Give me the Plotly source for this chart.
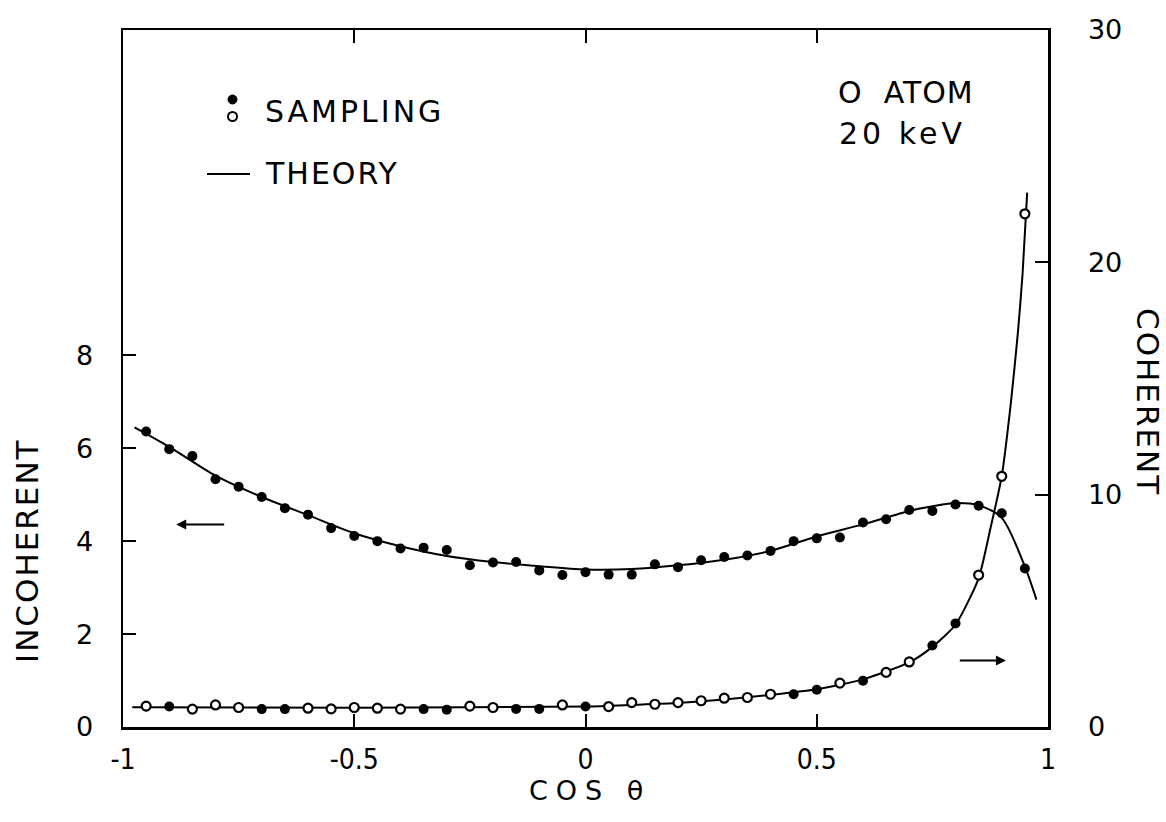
import plotly.graph_objects as go

# ---------------- data ----------------
cos_theta = [-0.95, -0.90, -0.85, -0.80, -0.75, -0.70, -0.65, -0.60, -0.55, -0.50,
             -0.45, -0.40, -0.35, -0.30, -0.25, -0.20, -0.15, -0.10, -0.05, 0.00,
             0.05, 0.10, 0.15, 0.20, 0.25, 0.30, 0.35, 0.40, 0.45, 0.50,
             0.55, 0.60, 0.65, 0.70, 0.75, 0.80, 0.85, 0.90, 0.95]

incoherent_sampling = [6.36, 5.98, 5.83, 5.33, 5.17, 4.95, 4.71, 4.57, 4.28, 4.11,
                       4.00, 3.84, 3.86, 3.81, 3.48, 3.54, 3.55, 3.37, 3.27, 3.33,
                       3.28, 3.28, 3.50, 3.44, 3.59, 3.66, 3.69, 3.79, 4.00, 4.06,
                       4.08, 4.40, 4.47, 4.67, 4.65, 4.79, 4.76, 4.60, 3.41]

coherent_sampling = [0.90, 0.88, 0.77, 0.95, 0.84, 0.77, 0.77, 0.81, 0.78, 0.84,
                     0.81, 0.77, 0.77, 0.74, 0.90, 0.84, 0.78, 0.78, 0.95, 0.88,
                     0.88, 1.05, 0.98, 1.05, 1.13, 1.24, 1.27, 1.41, 1.41, 1.60,
                     1.89, 1.99, 2.35, 2.80, 3.51, 4.46, 6.54, 10.79, 22.09]

# True = filled dot, False = open circle (as printed in the figure)
coherent_filled = [False, True, False, False, False, True, True, False, False, False,
                   False, False, True, True, False, False, True, True, False, True,
                   False, False, False, False, False, False, False, False, True, True,
                   False, True, False, False, True, True, False, False, False]

theory_incoh_x = [-0.975, -0.9, -0.8, -0.7, -0.6, -0.5, -0.4, -0.3, -0.2, -0.1, 0.0,
                  0.1, 0.2, 0.3, 0.4, 0.5, 0.6, 0.7, 0.75, 0.8, 0.85, 0.9, 0.95, 0.975]
theory_incoh_y = [6.45, 6.03, 5.41, 4.95, 4.56, 4.17, 3.89, 3.68, 3.55, 3.46, 3.39,
                  3.40, 3.48, 3.60, 3.79, 4.10, 4.36, 4.65, 4.75, 4.82, 4.77, 4.50, 3.45, 2.74]

theory_coh_x = [-0.98, -0.5, 0.0, 0.1, 0.2, 0.3, 0.4, 0.5, 0.6, 0.7, 0.75, 0.8,
                0.85, 0.875, 0.9, 0.92, 0.935, 0.945, 0.955]
theory_coh_y = [0.85, 0.83, 0.88, 0.95, 1.03, 1.18, 1.38, 1.62, 2.05, 2.78, 3.45, 4.40,
                6.40, 8.50, 10.80, 14.00, 17.00, 19.50, 23.00]

x_ticks = [-1, -0.5, 0, 0.5, 1]
x_tick_text = ["-1", "-0.5", "0", "0.5", "1"]
left_ticks = [0, 2, 4, 6, 8]
right_ticks = [0, 10, 20, 30]

# ---------------- figure ----------------
W, H = 1166, 822
FX0, FX1, FY0, FY1 = 123, 1048, 30, 727      # frame in page pixels
L, T = FX0, FY0
pw, ph = FX1 - FX0, FY1 - FY0
R = W - L - pw
B = H - T - ph

def px(xp):
    return (xp - FX0) / pw

def py(yp):
    return (FY1 - yp) / ph

FONT = "DejaVu Sans, Verdana, sans-serif"
NARROW = "Liberation Sans Narrow, DejaVu Sans Condensed, Arial Narrow, Liberation Sans, sans-serif"
BLACK = "#000000"

def spaced(txt, sp):
    return '<span style="letter-spacing:%dpx">%s</span>' % (sp, txt)

fig = go.Figure()

fig.add_trace(go.Scatter(x=theory_incoh_x, y=theory_incoh_y, mode="lines",
                         line=dict(color=BLACK, width=2, shape="spline", smoothing=0.8),
                         showlegend=False, hoverinfo="skip"))
fig.add_trace(go.Scatter(x=cos_theta, y=incoherent_sampling, mode="markers",
                         marker=dict(symbol="circle", size=10, color=BLACK),
                         showlegend=False))

fig.add_trace(go.Scatter(x=theory_coh_x, y=theory_coh_y, mode="lines", yaxis="y2",
                         line=dict(color=BLACK, width=2, shape="spline", smoothing=0.6),
                         showlegend=False, hoverinfo="skip"))
fx = [x for x, f in zip(cos_theta, coherent_filled) if f]
fy = [y for y, f in zip(coherent_sampling, coherent_filled) if f]
ox = [x for x, f in zip(cos_theta, coherent_filled) if not f]
oy = [y for y, f in zip(coherent_sampling, coherent_filled) if not f]
fig.add_trace(go.Scatter(x=fx, y=fy, mode="markers", yaxis="y2",
                         marker=dict(symbol="circle", size=10, color=BLACK),
                         showlegend=False))
fig.add_trace(go.Scatter(x=ox, y=oy, mode="markers", yaxis="y2",
                         marker=dict(symbol="circle", size=9, color="white",
                                     line=dict(color=BLACK, width=2.2)),
                         showlegend=False))

fig.update_layout(
    width=W, height=H,
    margin=dict(l=L, r=R, t=T, b=B, autoexpand=False),
    paper_bgcolor="white", plot_bgcolor="white",
    font=dict(family=FONT, color=BLACK, size=26),
    xaxis=dict(range=[-1, 1], tickvals=x_ticks, ticktext=x_tick_text,
               showline=True, linecolor=BLACK, linewidth=2.5, mirror="ticks",
               ticks="inside", ticklen=13, tickwidth=2, tickcolor=BLACK,
               showgrid=False, zeroline=False,
               tickfont=dict(family=NARROW, size=28), ticklabelstandoff=6),
    yaxis=dict(range=[0, 15], tickvals=left_ticks,
               showline=True, linecolor=BLACK, linewidth=2.5, mirror=False,
               ticks="inside", ticklen=13, tickwidth=2, tickcolor=BLACK,
               showgrid=False, zeroline=False,
               tickfont=dict(family=FONT, size=27), ticklabelstandoff=22),
    yaxis2=dict(range=[0, 30], tickvals=right_ticks, overlaying="y", side="right",
                showline=True, linecolor=BLACK, linewidth=2.5,
                ticks="inside", ticklen=13, tickwidth=2, tickcolor=BLACK,
                showgrid=False, zeroline=False,
                tickfont=dict(family=FONT, size=27), ticklabelstandoff=32),
    showlegend=False,
)

def note(x, y, text, size, angle=0, xanchor="center"):
    return dict(x=px(x), y=py(y), xref="paper", yref="paper", text=text,
                textangle=angle, showarrow=False, xanchor=xanchor, yanchor="middle",
                font=dict(size=size, family=FONT, color=BLACK))

ann = []
# axis titles
ann.append(note(27, 551, spaced("INCOHERENT", 2), 31, angle=-90))
ann.append(note(1148, 402, spaced("COHERENT", 2), 31, angle=90))
ann.append(note(590, 790, spaced("COS θ", 8), 27))
# legend / info texts
ann.append(note(263, 111, spaced("SAMPLING", 3), 30, xanchor="left"))
ann.append(note(263, 173, spaced("THEORY", 2), 30, xanchor="left"))
ann.append(note(836, 93, spaced("O  ATOM", 1), 30, xanchor="left"))
ann.append(note(837, 133, spaced("20 keV", 4), 30, xanchor="left"))
# direction arrows
ann.append(dict(x=-0.885, y=4.36, ax=-0.778, ay=4.36, xref="x", yref="y",
                axref="x", ayref="y", text="", showarrow=True,
                arrowhead=2, arrowsize=1, arrowwidth=2, arrowcolor=BLACK))
ann.append(dict(x=0.909, y=2.86, ax=0.806, ay=2.86, xref="x", yref="y2",
                axref="x", ayref="y2", text="", showarrow=True,
                arrowhead=2, arrowsize=1, arrowwidth=2, arrowcolor=BLACK))
fig.update_layout(annotations=ann)

# legend symbols
shapes = []
shapes.append(dict(type="circle", xref="paper", yref="paper",
                   x0=px(228), x1=px(237), y0=py(95), y1=py(104),
                   fillcolor=BLACK, line=dict(color=BLACK, width=1)))
shapes.append(dict(type="circle", xref="paper", yref="paper",
                   x0=px(228), x1=px(237), y0=py(112), y1=py(121),
                   fillcolor="white", line=dict(color=BLACK, width=2)))
shapes.append(dict(type="line", xref="paper", yref="paper",
                   x0=px(207), x1=px(250), y0=py(174), y1=py(174),
                   line=dict(color=BLACK, width=2)))
fig.update_layout(shapes=shapes)

fig.write_html("out.html",
               config={"displayModeBar": False, "staticPlot": True},
               post_script="document.body.style.margin='0px';document.body.style.overflow='hidden';")
